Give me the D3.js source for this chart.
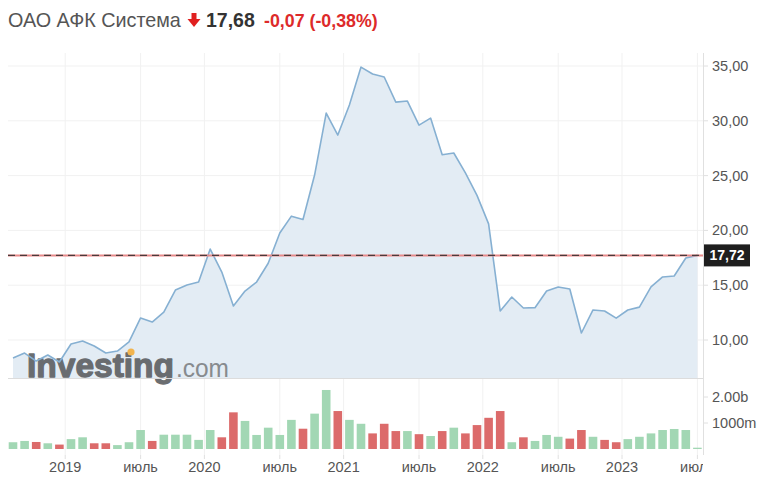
<!DOCTYPE html>
<html>
<head>
<meta charset="utf-8">
<script src="https://cdn.jsdelivr.net/npm/d3@7"></script>
<style>
  body { margin: 0; background: #fff; }
  svg { display: block; font-family: "Liberation Sans", Arial, sans-serif; }
</style>
</head>
<body>
<svg id="chart" width="770" height="485"></svg>
<script>
// ---------- DATA ----------
const months = [
  "2018-08","2018-09","2018-10","2018-11","2018-12",
  "2019-01","2019-02","2019-03","2019-04","2019-05","2019-06","2019-07","2019-08","2019-09","2019-10","2019-11","2019-12",
  "2020-01","2020-02","2020-03","2020-04","2020-05","2020-06","2020-07","2020-08","2020-09","2020-10","2020-11","2020-12",
  "2021-01","2021-02","2021-03","2021-04","2021-05","2021-06","2021-07","2021-08","2021-09","2021-10","2021-11","2021-12",
  "2022-01","2022-02","2022-03","2022-04","2022-05","2022-06","2022-07","2022-08","2022-09","2022-10","2022-11","2022-12",
  "2023-01","2023-02","2023-03","2023-04","2023-05","2023-06","2023-07"
];
const closePrices = [
  8.36, 8.81, 8.08, 8.63, 7.99,
  9.64, 9.91, 9.45, 8.81, 8.99, 9.82, 12.01, 11.64, 12.55, 14.56, 15.02, 15.29,
  18.30, 16.20, 13.10, 14.47, 15.29, 17.00, 19.76, 21.30, 21.00, 25.05, 30.70, 28.70,
  31.44, 34.90, 34.27, 34.00, 31.70, 31.80, 29.60, 30.25, 26.90, 27.06, 25.24, 23.20,
  20.60, 12.65, 13.92, 12.92, 12.95, 14.47, 14.84, 14.65, 10.64, 12.74, 12.65, 12.00,
  12.74, 13.00, 14.84, 15.75, 15.84, 17.48, 17.72
];
// monthly volume, billions of shares
const volumes = [
  0.26, 0.31, 0.27, 0.22, 0.17,
  0.38, 0.45, 0.22, 0.22, 0.15, 0.26, 0.73, 0.31, 0.55, 0.55, 0.55, 0.35,
  0.73, 0.45, 1.41, 1.08, 0.54, 0.82, 0.54, 1.12, 0.78, 1.36, 2.27, 1.46,
  1.12, 0.97, 0.60, 0.97, 0.69, 0.69, 0.57, 0.50, 0.69, 0.82, 0.60, 0.92,
  1.20, 1.46, 0.26, 0.45, 0.31, 0.54, 0.47, 0.40, 0.73, 0.47, 0.35, 0.26,
  0.38, 0.47, 0.60, 0.73, 0.77, 0.73, 0.05
];
const priceTicks = [10, 15, 20, 25, 30, 35];
const volumeTicks = [1, 2];
const volumeTickLabels = ["1000m", "2.00b"];
const xTickMonths = ["2019-01","2019-07","2020-01","2020-07","2021-01","2021-07","2022-01","2022-07","2023-01","2023-07"];
const xTickLabels = ["2019","июль","2020","июль","2021","июль","2022","июль","2023","июль"];
const lastPrice = 17.72;
const title = "ОАО АФК Система";
const quote = "17,68";
const change = "-0,07 (-0,38%)";

// ---------- LAYOUT ----------
const svg = d3.select("#chart");
const plotLeft = 8, plotRight = 703;
const priceTop = 53, priceBottom = 378;
const volBottom = 449;
const axisBottom = 455;

const x = d3.scaleLinear().domain([0, months.length - 1]).range([13, 697.4]);
const yP = d3.scaleLinear().domain([35, 10]).range([66, 340]);
const yV = d3.scaleLinear().domain([0, 1]).range([volBottom, volBottom - 26]);

const fmtRu = d3.format(".2f");
const ru = v => fmtRu(v).replace(".", ",");

// ---------- GRID ----------
const grid = svg.append("g");
grid.selectAll("line.h").data(priceTicks).join("line")
  .attr("x1", plotLeft).attr("x2", plotRight)
  .attr("y1", d => yP(d)).attr("y2", d => yP(d))
  .attr("stroke", "#f1f1f1").attr("stroke-width", 1);

function tickX(m) {
  const i = months.indexOf(m);
  return m.endsWith("-01") ? x(i - 0.5) : x(i);
}
grid.selectAll("line.v").data(xTickMonths).join("line")
  .attr("x1", d => tickX(d)).attr("x2", d => tickX(d))
  .attr("y1", priceTop).attr("y2", axisBottom)
  .attr("stroke", "#f1f1f1").attr("stroke-width", 1);

// ---------- PRICE AREA ----------
svg.append("path")
  .datum(closePrices)
  .attr("d", d3.area().x((d, i) => x(i)).y0(priceBottom).y1(d => yP(d)))
  .attr("fill", "#e3ecf4");

// ---------- LOGO ----------
const logo = svg.append("g").attr("opacity", 0.92);
logo.append("text")
  .attr("x", 27).attr("y", 377)
  .attr("font-size", 34).attr("font-weight", "bold")
  .attr("textLength", 147).attr("lengthAdjust", "spacingAndGlyphs")
  .attr("fill", "#5f6265").attr("stroke", "#5f6265").attr("stroke-width", 1.3)
  .attr("stroke-linejoin", "round")
  .text("Investing");
logo.append("circle").attr("cx", 131).attr("cy", 352).attr("r", 3.6).attr("fill", "#f4b041");
logo.append("text")
  .attr("x", 176).attr("y", 377)
  .attr("font-size", 25)
  .attr("textLength", 53).attr("lengthAdjust", "spacingAndGlyphs")
  .attr("fill", "#808386").text(".com");

// ---------- PRICE LINE ----------
svg.append("path")
  .datum(closePrices)
  .attr("d", d3.line().x((d, i) => x(i)).y(d => yP(d)))
  .attr("fill", "none").attr("stroke", "#86b0d2").attr("stroke-width", 1.6)
  .attr("stroke-linejoin", "round");

// ---------- LAST PRICE LINE ----------
svg.append("line")
  .attr("x1", plotLeft).attr("x2", plotRight)
  .attr("y1", yP(lastPrice)).attr("y2", yP(lastPrice))
  .attr("stroke", "#e88a8a").attr("stroke-width", 2);
svg.append("line")
  .attr("x1", plotLeft).attr("x2", plotRight)
  .attr("y1", yP(lastPrice)).attr("y2", yP(lastPrice))
  .attr("stroke", "#4a3a3a").attr("stroke-width", 1.2)
  .attr("stroke-dasharray", "7,5");

// ---------- SEPARATOR & AXIS LINES ----------
svg.append("line")
  .attr("x1", plotLeft).attr("x2", plotRight)
  .attr("y1", priceBottom + 0.5).attr("y2", priceBottom + 0.5)
  .attr("stroke", "#dcdcdc");
svg.append("line")
  .attr("x1", plotRight + 0.5).attr("x2", plotRight + 0.5)
  .attr("y1", priceTop).attr("y2", axisBottom)
  .attr("stroke", "#e0e0e0");

// ---------- VOLUME BARS ----------
const barW = 8.6;
svg.append("g").selectAll("rect").data(volumes).join("rect")
  .attr("x", (d, i) => x(i) - barW / 2)
  .attr("width", barW)
  .attr("y", d => yV(d))
  .attr("height", d => volBottom - yV(d))
  .attr("fill", (d, i) => (i === 0 || closePrices[i] >= closePrices[i - 1]) ? "#a2d7b4" : "#dc6b6b");

// ---------- RIGHT AXIS ----------
const rAxis = svg.append("g").attr("transform", `translate(${plotRight},0)`);
rAxis.selectAll("line.pt").data(priceTicks).join("line")
  .attr("x1", 0).attr("x2", 5)
  .attr("y1", d => yP(d)).attr("y2", d => yP(d))
  .attr("stroke", "#e0e0e0");
rAxis.selectAll("text.pt").data(priceTicks).join("text")
  .attr("x", 9).attr("y", d => yP(d)).attr("dy", "0.35em")
  .attr("font-size", 14.5).attr("fill", "#555")
  .text(d => ru(d));
rAxis.selectAll("line.vt").data(volumeTicks).join("line")
  .attr("x1", 0).attr("x2", 5)
  .attr("y1", d => yV(d)).attr("y2", d => yV(d))
  .attr("stroke", "#e0e0e0");
rAxis.selectAll("text.vt").data(volumeTicks).join("text")
  .attr("x", 9).attr("y", d => yV(d)).attr("dy", "0.35em")
  .attr("font-size", 14.5).attr("fill", "#555")
  .text((d, i) => volumeTickLabels[i]);

// last price badge
const badge = rAxis.append("g").attr("transform", `translate(0,${yP(lastPrice)})`);
badge.append("rect").attr("x", 1).attr("y", -11).attr("width", 46).attr("height", 22).attr("fill", "#1e1e1e");
badge.append("text").attr("x", 24).attr("y", 0).attr("dy", "0.35em")
  .attr("text-anchor", "middle").attr("font-size", 14).attr("font-weight", "bold")
  .attr("fill", "#fff").text(ru(lastPrice));

// ---------- BOTTOM AXIS ----------
svg.append("clipPath").attr("id", "xclip").append("rect")
  .attr("x", 0).attr("y", 440).attr("width", plotRight).attr("height", 45);
const bAxis = svg.append("g").attr("clip-path", "url(#xclip)");
bAxis.selectAll("line").data(xTickMonths).join("line")
  .attr("x1", d => tickX(d)).attr("x2", d => tickX(d))
  .attr("y1", axisBottom).attr("y2", axisBottom + 4)
  .attr("stroke", "#e0e0e0");
bAxis.selectAll("text").data(xTickMonths).join("text")
  .attr("x", d => tickX(d)).attr("y", 472)
  .attr("text-anchor", "middle").attr("font-size", 14.5).attr("fill", "#555")
  .text((d, i) => xTickLabels[i]);

// ---------- HEADER ----------
const header = svg.append("g");
header.append("text").attr("x", 8).attr("y", 27)
  .attr("font-size", 19.8).attr("fill", "#555").text(title);
// down arrow
const ax = 194;
header.append("path")
  .attr("d", `M${ax-2.5},13 h5 v6 h4 l-6.5,8 l-6.5,-8 h4 z`)
  .attr("fill", "#e02020");
header.append("text").attr("x", 206).attr("y", 27)
  .attr("font-size", 19.5).attr("font-weight", "bold").attr("fill", "#333").text(quote);
header.append("text").attr("x", 264).attr("y", 27)
  .attr("font-size", 17.8).attr("font-weight", "bold").attr("fill", "#dd2a2a").text(change);
</script>
</body>
</html>
